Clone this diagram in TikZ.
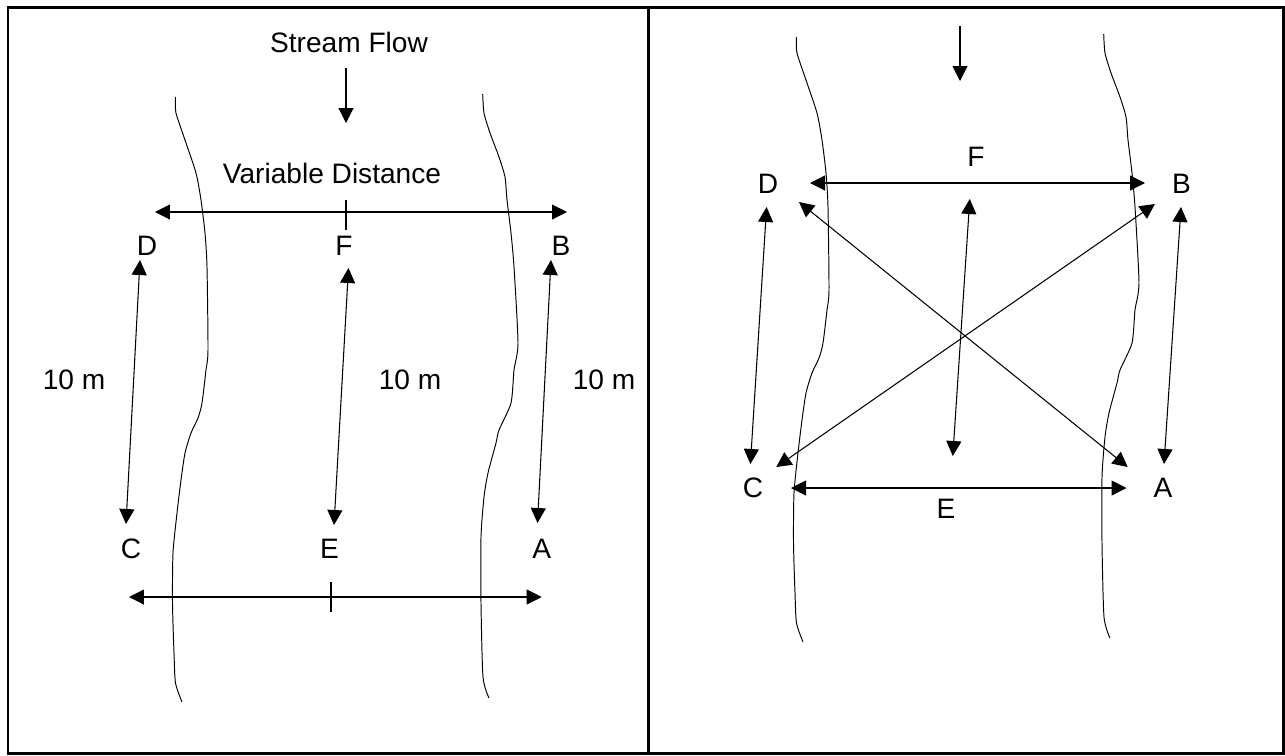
\documentclass[tikz,border=0pt]{standalone}
\usepackage{fontspec}
\setmainfont{Liberation Sans}
\usetikzlibrary{arrows.meta}

\begin{document}
\begin{tikzpicture}[x=0.02cm, y=-0.02cm, line width=0.6pt,
    >={Triangle[length=0.3cm, width=0.3cm]},
    lbl/.style={inner sep=0pt, font=\fontsize{16}{19}\selectfont},
    bank/.style={line width=0.55pt},
    frame/.style={line width=1.7pt}]
  \useasboundingbox (0,0) rectangle (1285,755);
  \draw[frame] (8,7.5) rectangle (1283.5,753.5);
  \draw[frame] (648,7.5) -- (648,753.5);

  % stream banks (the right panel has the same banks, moved up)
  \foreach \dx/\dy in {0/0, 621/-60} {
    \begin{scope}[shift={(\dx,\dy)}]
      \draw[bank] plot[smooth, tension=0.4] coordinates {(175.5,97) (176,113) (185,140) (196,173)
        (201,200) (205,233) (207,267) (208,350) (206,370) (202,403) (198,418) (191,433) (185,453)
        (181,480) (177,513) (173,553) (172.5,603) (174,653) (175.5,683) (182,702)};
      \draw[bank] plot[smooth, tension=0.4] coordinates {(482.7,94) (484,113) (490,133) (499,157)
        (505,177) (507,200) (511,233) (514,267) (518,343) (514,370) (511,403) (499,430) (496,443)
        (488,473) (484,497) (481,537) (481,603) (483,677) (489,698)};
    \end{scope}
  }

  % left panel
  \node[lbl] (flow) at (349,42) {Stream Flow};
  \node[lbl] (vd) at (332,173) {Variable Distance};
  \node[lbl] (D) at (147,246) {D};
  \node[lbl] (F) at (344,246) {F};
  \node[lbl] (B) at (561,246) {B};
  \node[lbl] (C) at (131,549) {C};
  \node[lbl] (E) at (329.5,549) {E};
  \node[lbl] (A) at (541.7,549) {A};
  \node[lbl] (m1) at (74,380) {10 m};
  \node[lbl] (m2) at (410,380) {10 m};
  \node[lbl] (m3) at (604,380) {10 m};

  \coordinate (ft) at (346,68);   \coordinate (fb) at (346,123);
  \coordinate (vl) at (155,212);  \coordinate (vr) at (567,212);
  \coordinate (vt) at (346,200);  \coordinate (vb) at (346,230);
  \coordinate (d1) at (140,260);  \coordinate (c1) at (126,524);
  \coordinate (f1) at (348.5,268); \coordinate (e1) at (334,525);
  \coordinate (b1) at (551,260);  \coordinate (a1) at (537.5,523);
  \coordinate (hl) at (129,597);  \coordinate (hr) at (541.7,597);
  \coordinate (ht) at (331,582);  \coordinate (hb) at (331,612);

  \draw[->] (ft) -- (fb);
  \draw[<->] (vl) -- (vr);
  \draw (vt) -- (vb);
  \draw[<->] (d1) -- (c1);
  \draw[<->] (f1) -- (e1);
  \draw[<->] (b1) -- (a1);
  \draw[<->] (hl) -- (hr);
  \draw (ht) -- (hb);

  % right panel
  \node[lbl] (F2) at (976,157) {F};
  \node[lbl] (D2) at (768,184) {D};
  \node[lbl] (B2) at (1181.6,184) {B};
  \node[lbl] (C2) at (753,488) {C};
  \node[lbl] (A2) at (1163,488) {A};
  \node[lbl] (E2) at (946,509) {E};

  \coordinate (ft2) at (960,26);   \coordinate (fb2) at (960,81);
  \coordinate (db1) at (810,183);  \coordinate (db2) at (1145,183);
  \coordinate (dc1) at (766.6,207); \coordinate (dc2) at (750.4,464);
  \coordinate (da1) at (799,202);  \coordinate (da2) at (1127.7,467);
  \coordinate (bc1) at (1154.9,204); \coordinate (bc2) at (776.3,467);
  \coordinate (fe1) at (969.8,199); \coordinate (fe2) at (952.8,456);
  \coordinate (ba1) at (1181,207); \coordinate (ba2) at (1164,464);
  \coordinate (ca1) at (791,488);  \coordinate (ca2) at (1126.5,488);

  \draw[->] (ft2) -- (fb2);
  \draw[<->] (db1) -- (db2);
  \draw[<->] (dc1) -- (dc2);
  \draw[<->] (da1) -- (da2);
  \draw[<->] (bc1) -- (bc2);
  \draw[<->] (fe1) -- (fe2);
  \draw[<->] (ba1) -- (ba2);
  \draw[<->] (ca1) -- (ca2);
\end{tikzpicture}
\end{document}
